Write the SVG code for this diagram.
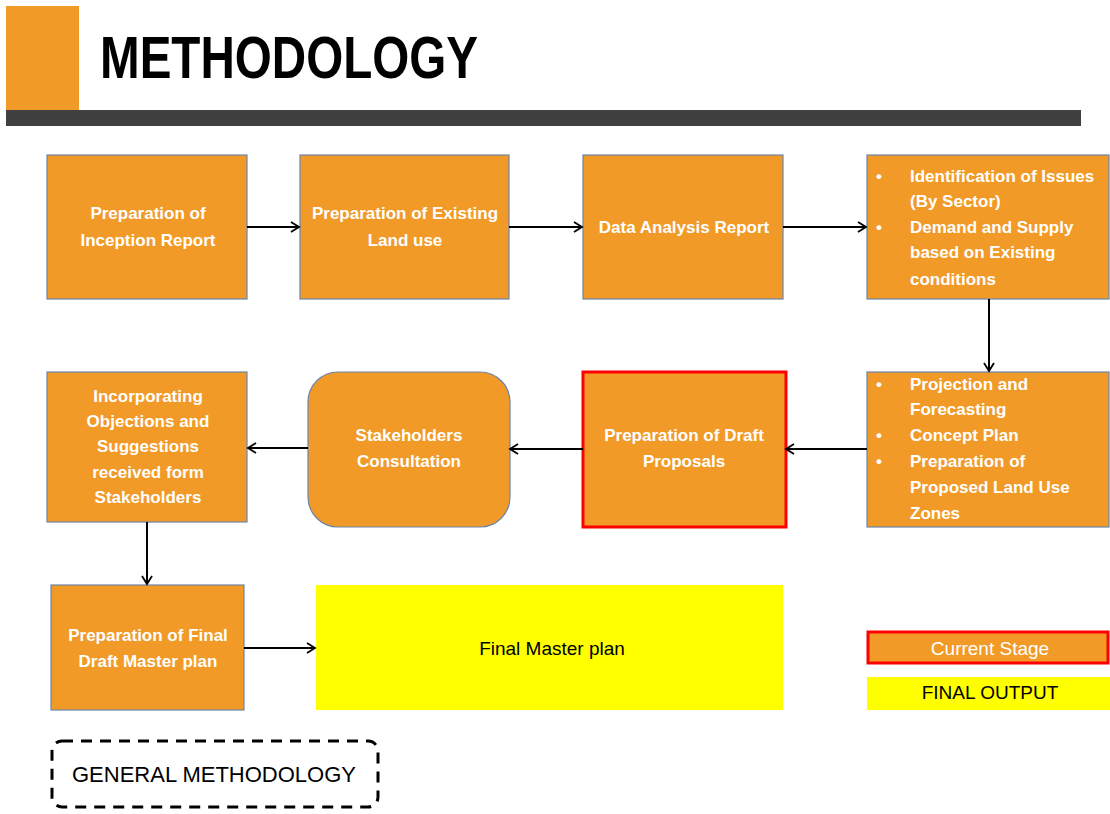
<svg xmlns="http://www.w3.org/2000/svg" width="1110" height="814" viewBox="0 0 1110 814">
<defs>
<marker id="ah" markerWidth="12" markerHeight="12" refX="10" refY="6" orient="auto" markerUnits="userSpaceOnUse">
<path d="M2,1 L10,6 L2,11" fill="none" stroke="#000" stroke-width="1.8"/>
</marker>
<style>
.box{fill:#F29A27;stroke:#6C85A8;stroke-width:1.2}
.cur{fill:#F29A27;stroke:#FF0000;stroke-width:3}
.yel{fill:#FFFF00}
.t{font-family:"Liberation Sans",Arial,sans-serif;font-weight:bold;font-size:17px;fill:#fff;text-anchor:middle}
.tl{font-family:"Liberation Sans",Arial,sans-serif;font-weight:bold;font-size:17px;fill:#fff}
.n{font-family:"Liberation Sans",Arial,sans-serif;font-size:19px;fill:#000;text-anchor:middle}
.conn{stroke:#000;stroke-width:2;fill:none;marker-end:url(#ah)}
</style>
</defs>
<rect width="1110" height="814" fill="#fff"/>
<g id="header">
<rect x="6" y="6" width="73" height="104" fill="#F29A27"/>
<rect x="6" y="110" width="1075" height="16" fill="#404040"/>
<text x="100" y="78" font-family="Liberation Sans,Arial,sans-serif" font-weight="bold" font-size="60" textLength="378" lengthAdjust="spacingAndGlyphs" fill="#000">METHODOLOGY</text>
</g>
<g id="n1"><rect class="box" x="47" y="155" width="200" height="144"/>
<text class="t" x="148" y="219">Preparation of</text><text class="t" x="148" y="246">Inception Report</text></g>
<g id="n2"><rect class="box" x="300" y="155" width="209" height="144"/>
<text class="t" x="405" y="219">Preparation of Existing</text><text class="t" x="405" y="246">Land use</text></g>
<g id="n3"><rect class="box" x="583" y="155" width="200" height="144"/>
<text class="t" x="684" y="233">Data Analysis Report</text></g>
<g id="n4"><rect class="box" x="867" y="155" width="242" height="144"/>
<text class="tl" x="876" y="182">•</text><text class="tl" x="910" y="182">Identification of Issues</text>
<text class="tl" x="910" y="207">(By Sector)</text>
<text class="tl" x="876" y="233">•</text><text class="tl" x="910" y="233">Demand and Supply</text>
<text class="tl" x="910" y="258">based on Existing</text>
<text class="tl" x="910" y="285">conditions</text></g>
<g id="n5"><rect class="box" x="867" y="372" width="242" height="155"/>
<text class="tl" x="876" y="390">•</text><text class="tl" x="910" y="390">Projection and</text>
<text class="tl" x="910" y="415">Forecasting</text>
<text class="tl" x="876" y="441">•</text><text class="tl" x="910" y="441">Concept Plan</text>
<text class="tl" x="876" y="467">•</text><text class="tl" x="910" y="467">Preparation of</text>
<text class="tl" x="910" y="493">Proposed Land Use</text>
<text class="tl" x="910" y="519">Zones</text></g>
<g id="n6"><rect class="cur" x="583" y="372" width="203" height="155"/>
<text class="t" x="684" y="441">Preparation of Draft</text><text class="t" x="684" y="467">Proposals</text></g>
<g id="n7"><rect class="box" x="308" y="372" width="202" height="155" rx="30"/>
<text class="t" x="409" y="441">Stakeholders</text><text class="t" x="409" y="467">Consultation</text></g>
<g id="n8"><rect class="box" x="47" y="372" width="200" height="150"/>
<text class="t" x="148" y="402">Incorporating</text><text class="t" x="148" y="427">Objections and</text>
<text class="t" x="148" y="452">Suggestions</text><text class="t" x="148" y="478">received form</text>
<text class="t" x="148" y="503">Stakeholders</text></g>
<g id="n9"><rect class="box" x="51" y="585" width="193" height="125"/>
<text class="t" x="148" y="641">Preparation of Final</text><text class="t" x="148" y="667">Draft Master plan</text></g>
<g id="n10"><rect class="yel" x="316" y="585" width="467" height="125"/>
<text class="n" x="552" y="655">Final Master plan</text></g>
<g id="legend">
<rect class="cur" x="868" y="632" width="240" height="31"/>
<text x="990" y="655" font-family="Liberation Sans,Arial,sans-serif" font-size="19" fill="#fff" text-anchor="middle">Current Stage</text>
<rect class="yel" x="867" y="677" width="243" height="33"/>
<text class="n" x="990" y="699">FINAL OUTPUT</text>
</g>
<g id="label">
<rect x="52" y="741" width="326" height="66" rx="10" fill="none" stroke="#000" stroke-width="3" stroke-dasharray="11,8"/>
<text x="214" y="782" font-family="Liberation Sans,Arial,sans-serif" font-size="22" fill="#000" text-anchor="middle">GENERAL METHODOLOGY</text>
</g>
<g id="connectors">
<line class="conn" x1="247" y1="227" x2="299" y2="227"/>
<line class="conn" x1="509" y1="227" x2="582" y2="227"/>
<line class="conn" x1="783" y1="227" x2="866" y2="227"/>
<line class="conn" x1="989" y1="299" x2="989" y2="371"/>
<line class="conn" x1="867" y1="449" x2="786" y2="449"/>
<line class="conn" x1="583" y1="449" x2="510" y2="449"/>
<line class="conn" x1="308" y1="448" x2="248" y2="448"/>
<line class="conn" x1="147" y1="522" x2="147" y2="584"/>
<line class="conn" x1="244" y1="648" x2="315" y2="648"/>
</g>
</svg>
